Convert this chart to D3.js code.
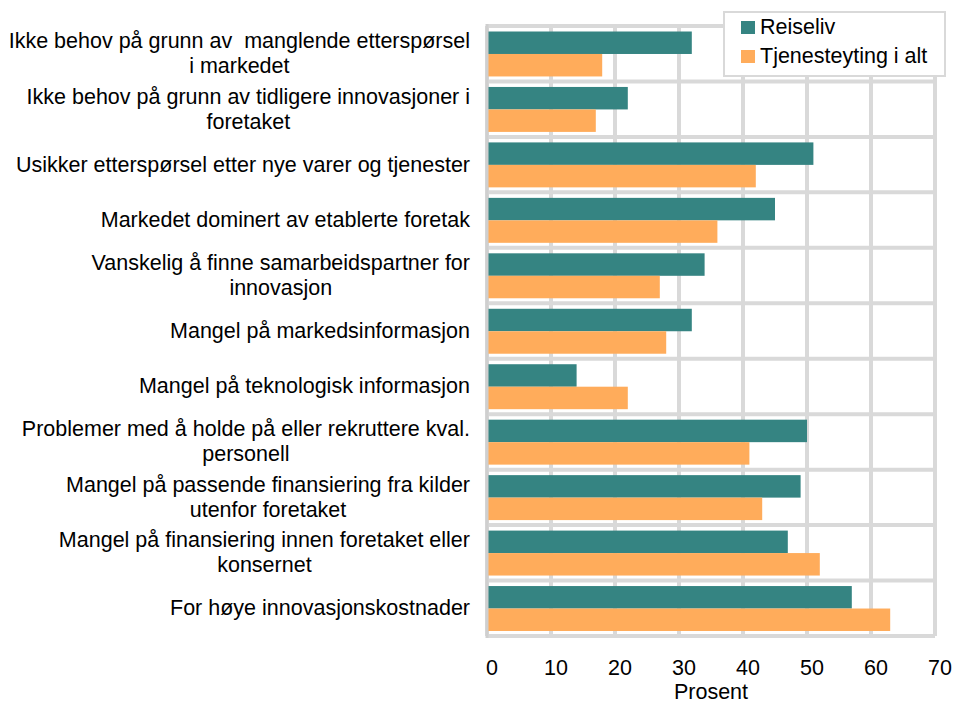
<!DOCTYPE html>
<html>
<head>
<meta charset="utf-8">
<script src="https://cdn.jsdelivr.net/npm/d3@7"></script>
<style>
  body { margin: 0; background: #fff; }
  text { font-family: "Liberation Sans", Arial, sans-serif; fill: #000; white-space: pre; }
</style>
</head>
<body>
<svg id="chart" width="955" height="702"></svg>
<script>
// categories, top to bottom ("\n" = line break in the label)
const categories = [
  "Ikke behov på grunn av  manglende etterspørsel\ni markedet",
  "Ikke behov på grunn av tidligere innovasjoner i\nforetaket",
  "Usikker etterspørsel etter nye varer og tjenester",
  "Markedet dominert av etablerte foretak",
  "Vanskelig å finne samarbeidspartner for\ninnovasjon",
  "Mangel på markedsinformasjon",
  "Mangel på teknologisk informasjon",
  "Problemer med å holde på eller rekruttere kval.\npersonell",
  "Mangel på passende finansiering fra kilder\nutenfor foretaket",
  "Mangel på finansiering innen foretaket eller\nkonsernet",
  "For høye innovasjonskostnader"
];
const seriesNames = ["Reiseliv", "Tjenesteyting i alt"];
const reiseliv = [32, 22, 51, 45, 34, 32, 14, 50, 49, 47, 57];
const tjenesteyting = [18, 17, 42, 36, 27, 28, 22, 41, 43, 52, 63];
const xTicks = [0, 10, 20, 30, 40, 50, 60, 70];
const colors = ["#358482", "#ffac5b"];

const svg = d3.select("#chart");
const plot = { left: 487, right: 935, top: 26, bottom: 636 };
const gridColor = "#d9d9d9";
const fs = 21.5;

const x = d3.scaleLinear().domain([0, 70]).range([plot.left, plot.right]);
const y = d3.scaleBand().domain(d3.range(categories.length)).range([plot.top, plot.bottom]);
const ySub = d3.scaleBand().domain(d3.range(seriesNames.length))
  .range([5.5, y.bandwidth() - 5]);

// grid
const grid = svg.append("g");
grid.selectAll("line.v").data(xTicks).join("line")
  .attr("x1", d => x(d)).attr("x2", d => x(d))
  .attr("y1", plot.top).attr("y2", plot.bottom)
  .attr("stroke", gridColor).attr("stroke-width", 4);
grid.selectAll("line.h").data(d3.range(categories.length + 1)).join("line")
  .attr("x1", plot.left).attr("x2", plot.right)
  .attr("y1", d => plot.top + d * y.step()).attr("y2", d => plot.top + d * y.step())
  .attr("stroke", gridColor).attr("stroke-width", 4);

// bars
const series = [reiseliv, tjenesteyting];
series.forEach((vals, s) => {
  svg.append("g").selectAll("rect").data(vals).join("rect")
    .attr("x", x(0) + 1)
    .attr("y", (d, i) => y(i) + ySub(s))
    .attr("width", d => x(d) - x(0) - 1)
    .attr("height", ySub.bandwidth())
    .attr("fill", colors[s]);
});

// left axis line
svg.append("line")
  .attr("x1", x(0)).attr("x2", x(0)).attr("y1", plot.top - 2).attr("y2", plot.bottom + 2)
  .attr("stroke", "#cfcfcf").attr("stroke-width", 3);

// category labels: centred block, right edge at 470
const labelRight = 470;
const lineH = 25;
categories.forEach((c, i) => {
  const lines = c.split("\n");
  const t = svg.append("text").attr("font-size", fs).attr("text-anchor", "middle");
  const cy = y(i) + y.bandwidth() / 2;
  const spans = lines.map((ln, k) => t.append("tspan")
    .attr("y", cy - (lines.length - 1) * lineH / 2 + k * lineH + 7)
    .text(ln));
  const maxW = d3.max(spans, sp => sp.node().getComputedTextLength());
  spans.forEach(sp => sp.attr("x", labelRight - maxW / 2));
});

// x tick labels
svg.append("g").selectAll("text").data(xTicks).join("text")
  .attr("x", d => x(d) + 5).attr("y", 675)
  .attr("font-size", fs).attr("text-anchor", "middle")
  .text(d => d);
svg.append("text").attr("x", (plot.left + plot.right) / 2).attr("y", 699)
  .attr("font-size", fs).attr("text-anchor", "middle").text("Prosent");

// legend
const lg = svg.append("g");
lg.append("rect").attr("x", 724).attr("y", 12).attr("width", 221).attr("height", 64)
  .attr("fill", "#fff").attr("stroke", gridColor).attr("stroke-width", 2);
seriesNames.forEach((n, s) => {
  lg.append("rect").attr("x", 741).attr("y", 21 + s * 29).attr("width", 14).attr("height", 13)
    .attr("fill", colors[s]);
  lg.append("text").attr("x", 760).attr("y", 34 + s * 29).attr("font-size", fs).text(n);
});
</script>
</body>
</html>
